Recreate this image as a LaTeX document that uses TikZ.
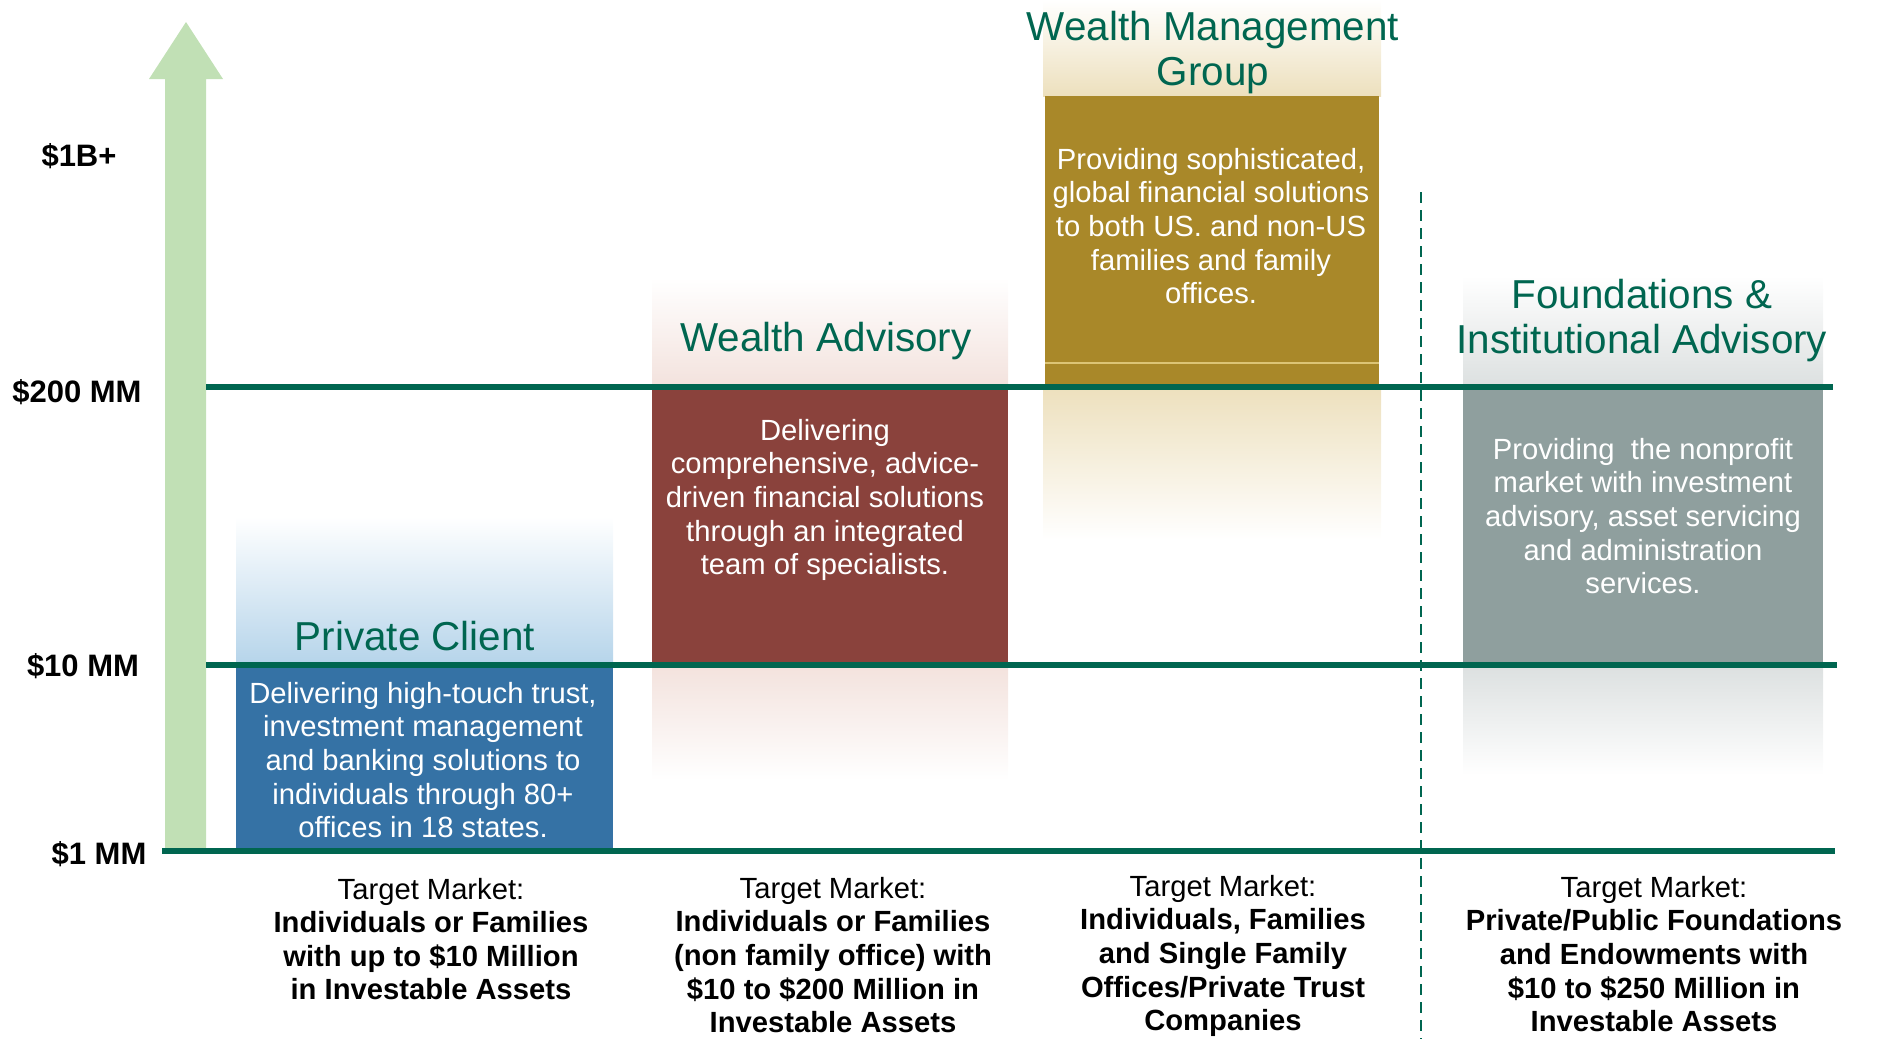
\documentclass[tikz,border=0pt]{standalone}
\usepackage{fontspec}
\setmainfont{Liberation Sans}

\definecolor{linegreen}{HTML}{006650}
\definecolor{arrowgreen}{HTML}{C1E0B5}
\definecolor{pcblue}{HTML}{3572A5}
\definecolor{pcfade}{HTML}{B5D4EA}
\definecolor{wabrown}{HTML}{8A423C}
\definecolor{wafade}{HTML}{F3E2DD}
\definecolor{wmgold}{HTML}{A98829}
\definecolor{wmfade}{HTML}{EDE0BD}
\definecolor{wmstripe}{HTML}{DCC475}
\definecolor{fagray}{HTML}{8F9F9E}
\definecolor{fafade}{HTML}{DCE0E0}

\begin{document}
\begin{tikzpicture}[x=0.5pt, y=-0.5pt,
    level/.style={line width=3pt, linegreen},
    title/.style={linegreen, font=\fontsize{20.2}{22.5}\selectfont, align=center},
    blurb/.style={white, font=\fontsize{14.6}{16.8}\selectfont, align=center},
    target/.style={black, font=\fontsize{14.6}{16.8}\selectfont, align=center},
    amount/.style={black, font=\fontsize{15.5}{18}\selectfont\bfseries}]

\useasboundingbox (0,0) rectangle (1879,1039);

\def\ytop{387} % $200 MM level
\def\ymid{665} % $10 MM level
\def\ybot{851} % $1 MM level
\def\xdash{1421} % divider between the two segments

% faded bands above and below the boxes
\shade[top color=white, bottom color=pcfade] (236,517) rectangle (613,\ymid);
\shade[top color=white, bottom color=wafade] (652,278) rectangle (1008,\ytop);
\shade[top color=wafade, bottom color=white] (652,\ymid) rectangle (1008,780);
\shade[top color=white, bottom color=wmfade] (1043,0) rectangle (1381,96);
\shade[top color=wmfade, bottom color=white] (1043,\ytop) rectangle (1381,540);
\shade[top color=white, bottom color=fafade] (1463,276) rectangle (1823,\ytop);
\shade[top color=fafade, bottom color=white] (1463,\ymid) rectangle (1823,775);

% boxes
\fill[pcblue]   (236,\ymid) rectangle (613,\ybot);
\fill[wabrown]  (652,\ytop) rectangle (1008,\ymid);
\fill[wmgold]   (1045,96)   rectangle (1379,\ytop);
\draw[wmstripe, line width=0.6pt] (1045,363) -- (1379,363);
\fill[fagray]   (1463,\ytop) rectangle (1823,\ymid);

% growth arrow
\fill[arrowgreen] (165,848) -- (165,79) -- (149,79) -- (186,22)
    -- (223,79) -- (206,79) -- (206,848) -- cycle;

% asset levels
\draw[level] (206,\ytop) -- (1833,\ytop);
\draw[level] (206,\ymid) -- (1837,\ymid);
\draw[level] (162,\ybot) -- (1835,\ybot);

% divider
\draw[linegreen, line width=1.2pt, dash pattern=on 5.5pt off 3.5pt]
    (\xdash,192) -- (\xdash,1039);

% amounts
\node[amount] (bil)    at (79,156) {\$1B+};
\node[amount] (mm200)  at (77,392) {\$200 MM};
\node[amount] (mm10)   at (83,666) {\$10 MM};
\node[amount] (mm1)    at (99,854) {\$1 MM};

% titles
\node[title] (pctitle) at (415,636) {Private Client};
\node[title] (watitle) at (826,341) {Wealth Advisory};
\node[title] (wmtitle) at (1213,53) {Wealth Management\\Group};
\node[title] (fatitle) at (1642,321) {Foundations \&\\Institutional Advisory};

% descriptions
\node[blurb] (pctext) at (423,760) {Delivering high-touch trust,\\investment management\\and banking solutions to\\individuals through 80+\\offices in 18 states.};
\node[blurb] (watext) at (825,500) {Delivering\\comprehensive, advice-\\driven financial solutions\\through an integrated\\team of specialists.};
\node[blurb] (wmtext) at (1211,226) {Providing sophisticated,\\global financial solutions\\to both US. and non-US\\families and family\\offices.};
\node[blurb] (fatext) at (1643,516) {Providing~~the nonprofit\\market with investment\\advisory, asset servicing\\and administration\\services.};

% target markets
\node[target] (pcmarket) at (431,939) {Target Market:\\\textbf{Individuals or Families}\\\textbf{with up to \$10 Million}\\\textbf{in Investable Assets}};
\node[target] (wamarket) at (833,955) {Target Market:\\\textbf{Individuals or Families}\\\textbf{(non family office) with}\\\textbf{\$10 to \$200 Million in}\\\textbf{Investable Assets}};
\node[target] (wmmarket) at (1223,956) {Target Market:\\\textbf{Individuals, Families}\\\textbf{and Single Family}\\\textbf{Offices/Private Trust}\\\textbf{Companies}};
\node[target] (famarket) at (1654,954) {Target Market:\\\textbf{Private/Public Foundations}\\\textbf{and Endowments with}\\\textbf{\$10 to \$250 Million in}\\\textbf{Investable Assets}};

\end{tikzpicture}
\end{document}
